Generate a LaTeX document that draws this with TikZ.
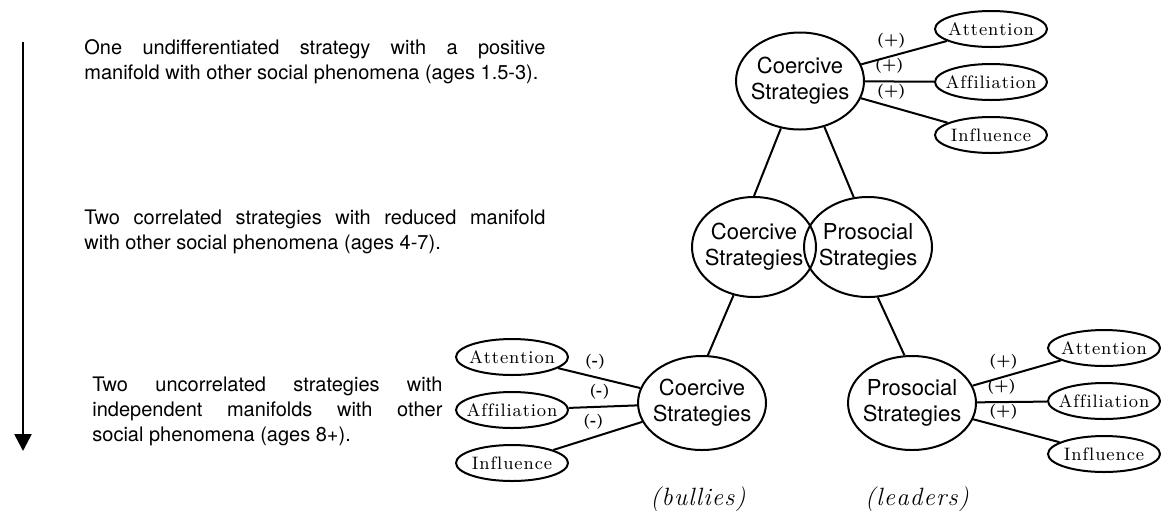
\documentclass[tikz,border=0pt]{standalone}
\usepackage{fontspec}
\setsansfont{TeX Gyre Heros}
\usetikzlibrary{shapes.geometric, positioning, arrows.meta}
\ExplSyntaxOn
\NewDocumentCommand \tracked { O{0.45pt} m }
  { \tl_map_inline:nn {#2} { ##1 \kern #1 } \kern -#1 }
\ExplSyntaxOff
\tikzset{
strat/.style={ellipse, draw, line width=1pt, inner sep=0pt, minimum width=64pt, minimum height=48pt}, % the strategy ellipses
sat/.style={ellipse, draw, line width=1pt, inner sep=0pt, minimum width=56pt, minimum height=18pt}, % the small outcome ellipses
node distance=26.5pt, % spacing of the three outcome ellipses
stratlbl/.style={align=center, inner sep=0pt, font=\sffamily\fontsize{11}{13}\selectfont},
satlbl/.style={inner sep=0pt, font=\rmfamily\fontsize{9}{10}\selectfont},
sign/.style={above=3.5pt, pos=0.45, inner sep=0pt, font=\rmfamily\bfseries\fontsize{7.5}{8}\selectfont}, % sign of the correlation
note/.style={anchor=west, align=left, inner sep=0pt, font=\sffamily\fontsize{10}{12.5}\selectfont},
group/.style={inner sep=0pt, font=\rmfamily\itshape\fontsize{12.5}{14}\selectfont},
link/.style={line width=1pt},
}

\begin{document}
\begin{tikzpicture}[x=0.5pt, y=-0.5pt]
    \useasboundingbox (0,0) rectangle (1161,510);
    \coordinate (tbeg) at (23,42);
    \coordinate (tend) at (23,451);
    \draw[line width=1.3pt, -{Triangle[width=8.5pt, length=8.5pt]}] (tbeg) -- (tend);
    \node[note] (txt0) at (84,62) {\makebox[230.5pt][s]{One undifferentiated strategy with a positive}\\manifold with other social phenomena (ages 1.5-3).};
    \node[note] (txt1) at (84,232) {\makebox[230.5pt][s]{Two correlated strategies with reduced manifold}\\with other social phenomena (ages 4-7).};
    \node[note] (txt2) at (92,411) {\makebox[175pt][s]{Two uncorrelated strategies with}\\\makebox[175pt][s]{independent manifolds with other}\\social phenomena (ages 8+).};
    \node[strat, minimum height=48.5pt, label={[stratlbl]center:Coercive\\Strategies}] (coer0) at (800,81) {};
    \node[sat, label={[satlbl]center:\tracked{Affiliation}}] (aff0) at (991,82) {};
    \node[sat, above of=aff0, label={[satlbl]center:\tracked{Attention}}] (att0) {};
    \node[sat, below of=aff0, label={[satlbl]center:\tracked{Influence}}] (inf0) {};
    \node[strat, minimum width=62pt, minimum height=50pt, label={[stratlbl]center:Coercive\\Strategies}] (coer1) at (754,247) {};
    \node[strat, minimum height=50pt, label={[stratlbl]center:Prosocial\\Strategies}] (pros1) at (868,247) {};
    \node[strat, minimum height=47pt, label={[stratlbl]center:Coercive\\Strategies}] (coer2) at (702,403) {};
    \node[strat, minimum height=47pt, label={[stratlbl]center:Prosocial\\Strategies}] (pros2) at (912,403) {};
    \node[sat, label={[satlbl]center:\tracked{Affiliation}}] (aff1) at (512,410) {};
    \node[sat, above of=aff1, label={[satlbl]center:\tracked{Attention}}] (att1) {};
    \node[sat, below of=aff1, label={[satlbl]center:\tracked{Influence}}] (inf1) {};
    \node[sat, label={[satlbl]center:\tracked{Affiliation}}] (aff2) at (1104,401) {};
    \node[sat, above of=aff2, label={[satlbl]center:\tracked{Attention}}] (att2) {};
    \node[sat, below of=aff2, label={[satlbl]center:\tracked{Influence}}] (inf2) {};
    \node[group] (bul) at (698,499) {\tracked[0.6pt]{(bullies)}};
    \node[group] (lea) at (917,499) {\tracked[0.6pt]{(leaders)}};
    \draw[link]
    (coer0) edge node[sign, pos=0.35]{(+)} (att0)
    (coer0) edge node[sign, pos=0.35]{(+)} (aff0)
    (coer0) edge node[sign, pos=0.35]{(+)} (inf0)
    (coer0.-112) edge (coer1.north)
    (coer0.-62) edge (pros1.106)
    (coer1.-113) edge (coer2.83)
    (pros1.-79) edge (pros2.99)
    (att1) edge node[sign]{(-)} (coer2)
    (aff1) edge node[sign]{(-)} (coer2)
    (inf1) edge node[sign]{(-)} (coer2)
    (pros2) edge node[sign, pos=0.35]{(+)} (att2)
    (pros2) edge node[sign, pos=0.35]{(+)} (aff2)
    (pros2) edge node[sign, pos=0.35]{(+)} (inf2);
\end{tikzpicture}
\end{document}
